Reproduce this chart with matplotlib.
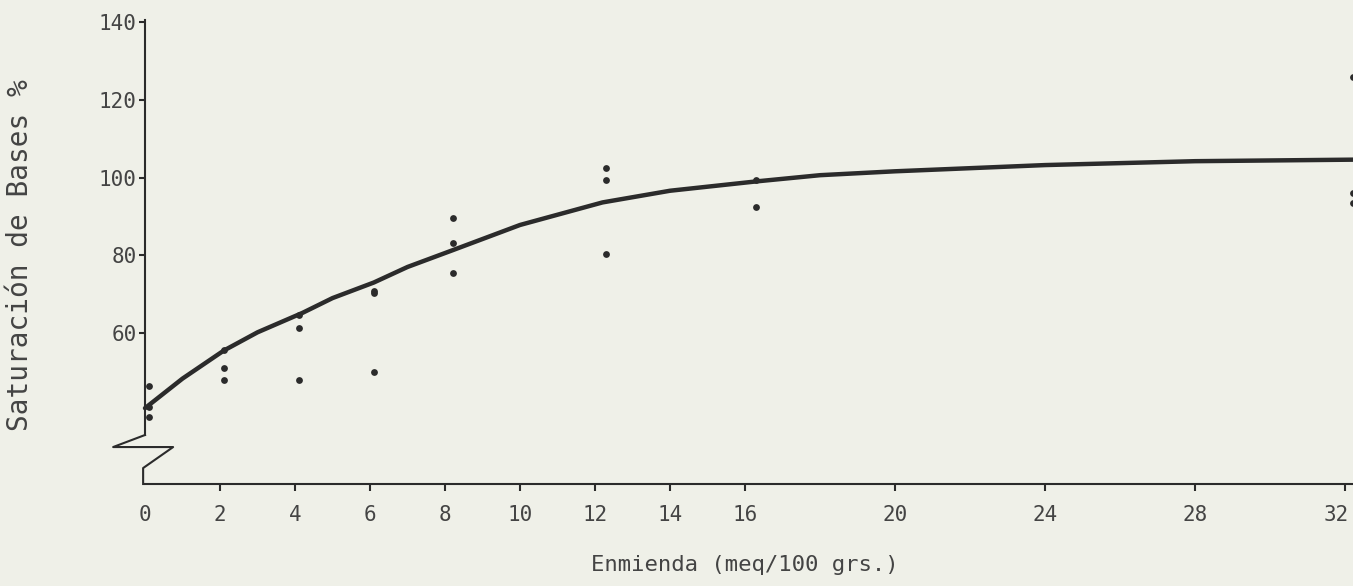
import matplotlib
matplotlib.use("Agg")
import matplotlib.pyplot as plt
from matplotlib.transforms import blended_transform_factory, offset_copy

# ---- data ----
dose_x = [0.1, 0.1, 0.1,
          2.1, 2.1, 2.1,
          4.1, 4.1, 4.1,
          6.1, 6.1, 6.1,
          8.2, 8.2, 8.2,
          12.3, 12.3, 12.3,
          16.3, 16.3,
          32.2, 32.2, 32.2]
sat_y = [46.5, 41.0, 38.5,
         55.6, 51.0, 47.9,
         64.6, 61.3, 47.9,
         70.8, 70.4, 50.0,
         89.6, 83.1, 75.4,
         102.4, 99.3, 80.3,
         99.3, 92.4,
         125.8, 96.0, 93.4]

curve_x = [0.0, 1.0, 2.1, 3.0, 4.2, 5.0, 6.1, 7.0, 8.2, 10.0, 12.2, 14.0, 16.3, 18.0, 20.0, 24.0, 28.0, 32.3]
curve_y = [40.7, 48.3, 55.5, 60.2, 65.2, 69.0, 73.0, 77.0, 81.3, 87.8, 93.6, 96.6, 99.0, 100.6, 101.6, 103.2, 104.2, 104.6]

x_ticks = [0, 2, 4, 6, 8, 10, 12, 14, 16, 20, 24, 28, 32]
x_tick_labels = ["0", "2", "4", "6", "8", "10", "12", "14", "16", "20", "24", "28", "32"]
y_ticks = [60, 80, 100, 120, 140]
y_tick_labels = ["60", "80", "100", "120", "140"]

x_label = "Enmienda (meq/100 grs.)"
y_label = "Saturación de Bases %"

# ---- style ----
BG = "#eff0e8"
INK = "#2b2b2b"
TXT = "#444444"
FONT = "DejaVu Sans Mono"

fig = plt.figure(figsize=(13.53, 5.86), dpi=100, facecolor=BG)
ax = fig.add_axes([145 / 1353, 1 - 484 / 586, 1 - 145 / 1353, (484 - 20) / 586])
ax.set_facecolor(BG)

ax.set_xlim(0, 32.21)
ax.set_ylim(21.2, 140.5)

ax.plot(curve_x, curve_y, color=INK, lw=3.2, solid_capstyle="round", clip_on=False, zorder=3)
ax.scatter(dose_x, sat_y, s=24, color=INK, zorder=4, clip_on=False, linewidths=0)

for s in ["top", "right"]:
    ax.spines[s].set_visible(False)
for s in ["left", "bottom"]:
    ax.spines[s].set_color(INK)
    ax.spines[s].set_linewidth(1.5)
ax.spines["left"].set_bounds(33.8, 140.5)

# axis-break zigzag at bottom of y axis
zx = [0.0, -0.85, 0.75, -0.05, -0.05]
zy = [33.8, 30.7, 30.7, 25.3, 21.2]
ax.plot(zx, zy, color=INK, lw=1.5, clip_on=False, zorder=3)

ax.set_xticks(x_ticks)
ax.set_xticklabels(x_tick_labels, family=FONT)
ax.set_yticks(y_ticks)
ax.set_yticklabels(y_tick_labels, family=FONT)
ax.tick_params(axis="x", direction="out", length=5, width=1.5, color=INK,
               labelsize=15, labelcolor=TXT, pad=10)
ax.tick_params(axis="y", direction="out", length=4, width=1.5, color=INK,
               labelsize=15, labelcolor=TXT, pad=2)
xt = ax.xaxis.get_major_ticks()
xt[0].tick1line.set_visible(False)
# keep the last label inside the picture edge
lbl = xt[-1].label1
lbl.set_transform(offset_copy(lbl.get_transform(), fig=fig, x=-9, y=0, units="dots"))

fig.text(745 / 1353, 1 - 565 / 586, x_label, ha="center", va="center",
         fontsize=16, color=TXT, family=FONT)
fig.text(20 / 1353, 1 - 255 / 586, y_label, ha="center", va="center",
         rotation=90, fontsize=20, color=TXT, family=FONT)

fig.savefig("out.png", dpi=100, facecolor=BG)
